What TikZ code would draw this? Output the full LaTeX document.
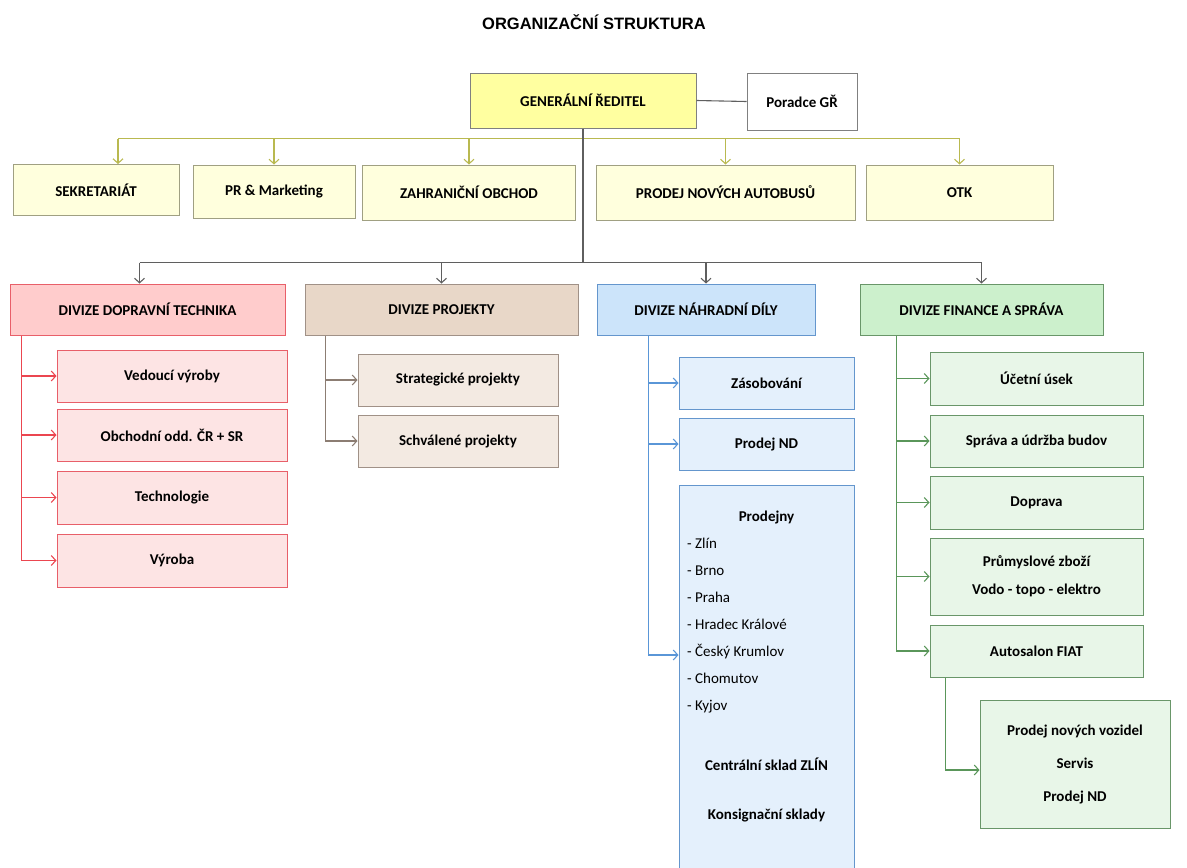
\documentclass[tikz,border=0pt]{standalone}
\usepackage{fontspec}
\setmainfont{Carlito}
\newfontfamily\titlefont{Liberation Sans}
\usepackage{tikz}
\usetikzlibrary{arrows.meta,positioning,calc}
\definecolor{bossyellow}{RGB}{255,255,160}
\definecolor{staffcream}{RGB}{255,255,221}
\definecolor{staffedge}{RGB}{160,160,130}
\definecolor{olivebus}{RGB}{185,185,80}
\definecolor{trunkgrey}{RGB}{95,95,95}
\definecolor{redfill}{RGB}{255,204,204}
\definecolor{redsub}{RGB}{253,228,228}
\definecolor{rededge}{RGB}{232,95,105}
\definecolor{redline}{RGB}{235,70,80}
\definecolor{projfill}{RGB}{232,215,200}
\definecolor{projsub}{RGB}{243,234,226}
\definecolor{projedge}{RGB}{160,145,135}
\definecolor{projline}{RGB}{140,125,115}
\definecolor{ndfill}{RGB}{204,228,250}
\definecolor{ndsub}{RGB}{228,240,252}
\definecolor{ndedge}{RGB}{100,150,205}
\definecolor{ndline}{RGB}{90,150,215}
\definecolor{finfill}{RGB}{204,240,204}
\definecolor{finsub}{RGB}{232,246,232}
\definecolor{finedge}{RGB}{105,150,105}
\definecolor{finline}{RGB}{90,150,90}
\tikzset{
  unit/.style 2 args={rectangle, draw=#1, fill=#2, line width=1pt, inner sep=2pt,
    align=center, font=\fontsize{15}{18}\selectfont\bfseries},
  dims/.style 2 args={minimum width=#1pt, minimum height=#2pt},
  link/.style={draw=#1, line width=1.1pt},
  arr/.style={draw=#1, line width=1.1pt, -{Straight Barb[length=4.5pt,width=10pt]}},
  city/.style={anchor=base west, inner sep=0pt, font=\fontsize{15}{18}\selectfont},
  boldtext/.style={inner sep=0pt, font=\fontsize{15}{18}\selectfont\bfseries}
}

\begin{document}
\begin{tikzpicture}[x=1pt, y=-1pt]
    \useasboundingbox (0,0) rectangle (1187,868);

    % Title
    \node (title) at (594,22) {\titlefont\bfseries\fontsize{16.5}{20}\selectfont ORGANIZAČNÍ STRUKTURA};

    % Top management
    \node[unit={gray}{bossyellow}, dims={226}{55}] (gr) at (583,100.5) {GENERÁLNÍ ŘEDITEL};
    \node[unit={gray}{white}, dims={110}{57}] (poradce) at (802,101.5) {Poradce GŘ};

    % Staff units
    \node[unit={staffedge}{staffcream}, dims={166}{51}] (sekr) at (96,190) {SEKRETARIÁT};
    \node[unit={staffedge}{staffcream}, dims={162}{53}] (pr) at (274,191.5) {PR \& Marketing};
    \node[unit={staffedge}{staffcream}, dims={213}{55}] (zahr) at (469,192.5) {ZAHRANIČNÍ OBCHOD};
    \node[unit={staffedge}{staffcream}, dims={259}{55}] (autobusy) at (725.5,192.5) {PRODEJ NOVÝCH AUTOBUSŮ};
    \node[unit={staffedge}{staffcream}, dims={187}{55}] (otk) at (959.5,192.5) {OTK};

    % Divisions
    \node[unit={rededge}{redfill}, dims={275}{51}] (dopr) at (147.5,309.5) {DIVIZE DOPRAVNÍ TECHNIKA};
    \node[unit={projedge}{projfill}, dims={273}{51}] (proj) at (441.5,309.5) {DIVIZE PROJEKTY};
    \node[unit={ndedge}{ndfill}, dims={218}{51}] (nahr) at (706,309.5) {DIVIZE NÁHRADNÍ DÍLY};
    \node[unit={finedge}{finfill}, dims={243}{51}] (fin) at (981.5,309.5) {DIVIZE FINANCE A SPRÁVA};

    % Divize dopravni technika
    \node[unit={rededge}{redsub}, dims={230}{52}] (vedouci) at (172,376) {Vedoucí výroby};
    \node[unit={rededge}{redsub}, dims={230}{52}] (obchodni) at (172,435) {Obchodní odd. ČR + SR};
    \node[unit={rededge}{redsub}, dims={230}{53}] (technologie) at (172,497.5) {Technologie};
    \node[unit={rededge}{redsub}, dims={230}{53}] (vyroba) at (172,560.5) {Výroba};

    % Divize projekty
    \node[unit={projedge}{projsub}, dims={200}{52}] (strat) at (458,380) {Strategické projekty};
    \node[unit={projedge}{projsub}, dims={200}{52}] (schval) at (458,441) {Schválené projekty};

    % Divize nahradni dily
    \node[unit={ndedge}{ndsub}, dims={175}{52}] (zasob) at (766.5,383) {Zásobování};
    \node[unit={ndedge}{ndsub}, dims={175}{52}] (prodejnd) at (766.5,444) {Prodej ND};
    \node[unit={ndedge}{ndsub}, dims={175}{390}] (prodejny) at (766.5,680) {};
    \node[boldtext] (prodejnyhead) at (766.5,517) {Prodejny};
    \foreach \c [count=\i] in {Zlín, Brno, Praha, Hradec Králové, Český Krumlov, Chomutov, Kyjov}
        \node[city] (city\i) at (687,{521+27*\i}) {- \c};
    \node[boldtext] (centralsklad) at (766.5,764) {Centrální sklad ZLÍN};
    \node[boldtext] (konsig) at (766.5,815) {Konsignační sklady};

    % Divize finance a sprava
    \node[unit={finedge}{finsub}, dims={213}{53}] (ucetni) at (1036.5,378.5) {Účetní úsek};
    \node[unit={finedge}{finsub}, dims={213}{52}] (sprava) at (1036.5,441) {Správa a údržba budov};
    \node[unit={finedge}{finsub}, dims={213}{53}] (doprava) at (1036.5,502.5) {Doprava};
    \node[unit={finedge}{finsub}, dims={213}{77}] (prumysl) at (1036.5,576.5) {Průmyslové zboží\\[10pt]Vodo - topo - elektro};
    \node[unit={finedge}{finsub}, dims={213}{52}] (autosalon) at (1036.5,651) {Autosalon FIAT};
    \node[unit={finedge}{finsub}, dims={190}{128}] (autosub) at (1075,764) {Prodej nových vozidel\\[15pt]Servis\\[15pt]Prodej ND};

    % Connectors from the top
    \draw[link=trunkgrey] (gr.east) -- (poradce.west);
    \coordinate (staffbus) at ($(gr.south)+(0,10)$);
    \coordinate (divbus) at ($(gr.south)+(0,134)$);
    \coordinate (sekrtop) at ([xshift=22pt]sekr.north);
    \coordinate (doprtop) at ([xshift=-8pt]dopr.north);
    \draw[link=olivebus] (sekrtop |- staffbus) -- (otk.north |- staffbus);
    \foreach \n in {sekrtop, pr.north, zahr.north, autobusy.north, otk.north}
        \draw[arr=olivebus] (\n |- staffbus) -- (\n);
    \draw[link=trunkgrey] (gr.south) -- (divbus);
    \draw[link=trunkgrey] (doprtop |- divbus) -- (fin.north |- divbus);
    \foreach \n in {doprtop, proj.north, nahr.north, fin.north}
        \draw[arr=trunkgrey] (\n |- divbus) -- (\n);

    % Connectors inside the divisions
    \coordinate (doprrail) at ([xshift=12pt]dopr.south west);
    \foreach \n in {vedouci, obchodni, technologie, vyroba}
        \draw[arr=redline] (doprrail) |- (\n.west);
    \coordinate (projrail) at ([xshift=21pt]proj.south west);
    \foreach \n in {strat, schval}
        \draw[arr=projline] (projrail) |- (\n.west);
    \coordinate (nahrrail) at ([xshift=52pt]nahr.south west);
    \coordinate (prodejnyin) at ([yshift=25pt]prodejny.west);
    \foreach \n in {zasob.west, prodejnd.west, prodejnyin}
        \draw[arr=ndline] (nahrrail) |- (\n);
    \coordinate (finrail) at ([xshift=37pt]fin.south west);
    \foreach \n in {ucetni, sprava, doprava, prumysl, autosalon}
        \draw[arr=finline] (finrail) |- (\n.west);
    \coordinate (autosubin) at ([yshift=-6pt]autosub.west);
    \draw[arr=finline] ([xshift=16pt]autosalon.south west) |- (autosubin);
\end{tikzpicture}
\end{document}
